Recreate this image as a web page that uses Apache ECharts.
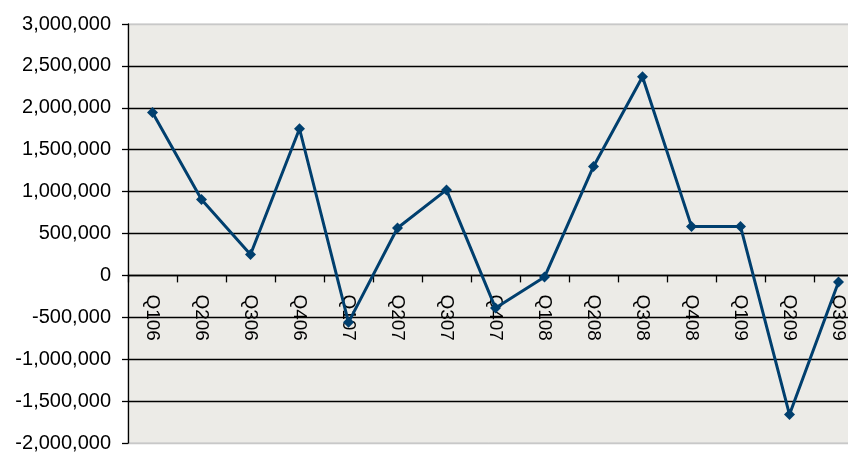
<!DOCTYPE html>
<html><head><meta charset="utf-8">
<script src="https://cdn.jsdelivr.net/npm/echarts@6/dist/echarts.min.js"></script>
<style>html,body{margin:0;padding:0;background:#fff}#c{width:848px;height:452px}</style>
</head><body><div id="c"></div>
<script>
const categories = ['Q106','Q206','Q306','Q406','Q107','Q207','Q307','Q407','Q108','Q208','Q308','Q408','Q109','Q209','Q309'];
const values = [1945000, 905000, 250000, 1750000, -560000, 565000, 1020000, -390000, -20000, 1300000, 2370000, 585000, 585000, -1660000, -80000];
const yMin = -2000000, yMax = 3000000, yStep = 500000;

const W = 848, H = 452, gTop = 24, gBottom = 9;
const plotH = H - gTop - gBottom;
const zeroOffset = plotH * (0 - yMin) / (yMax - yMin);

const chart = echarts.init(document.getElementById('c'), null, {renderer:'canvas'});
const fmt = v => (v < 0 ? '-' : '') + Math.abs(v).toString().replace(/\B(?=(\d{3})+(?!\d))/g, ',');
const nTicks = (yMax - yMin) / yStep + 1;
const splitColors = [];
for (let i = 0; i < nTicks; i++) splitColors.push(i === 0 || i === nTicks - 1 ? '#c8c8c8' : '#000000');

chart.setOption({
  animation: false,
  backgroundColor: '#ffffff',
  grid: { left: 128, right: -15, top: gTop, bottom: gBottom, containLabel: false, outerBoundsMode: 'none',
          show: true, backgroundColor: '#ECEBE7', borderColor: '#c8c8c8', borderWidth: 1 },
  xAxis: {
    type: 'category', data: categories, boundaryGap: true, position: 'bottom', offset: -zeroOffset,
    axisLine: { onZero: false, lineStyle: { color: '#000', width: 1.3 } },
    axisTick: { show: true, interval: 0, length: 7, lineStyle: { color: '#000', width: 1.3 } },
    axisLabel: { interval: 0, rotate: -90, margin: 19, color: '#000', fontFamily: 'Liberation Sans', fontSize: 19 },
    splitLine: { show: false }
  },
  yAxis: {
    type: 'value', min: yMin, max: yMax, interval: yStep,
    axisLine: { show: true, lineStyle: { color: '#000', width: 1.3 } },
    axisTick: { show: true, length: 6, lineStyle: { color: '#000', width: 1.3 } },
    axisLabel: { margin: 17, color: '#000', fontFamily: 'Liberation Sans', fontSize: 20, formatter: fmt },
    splitLine: { show: true, lineStyle: { color: splitColors, width: 1.3 } }
  },
  series: [{
    type: 'line', data: values,
    symbol: 'diamond', symbolSize: 11,
    lineStyle: { color: '#003F6E', width: 3 },
    itemStyle: { color: '#003F6E' }
  }]
});
</script></body></html>
